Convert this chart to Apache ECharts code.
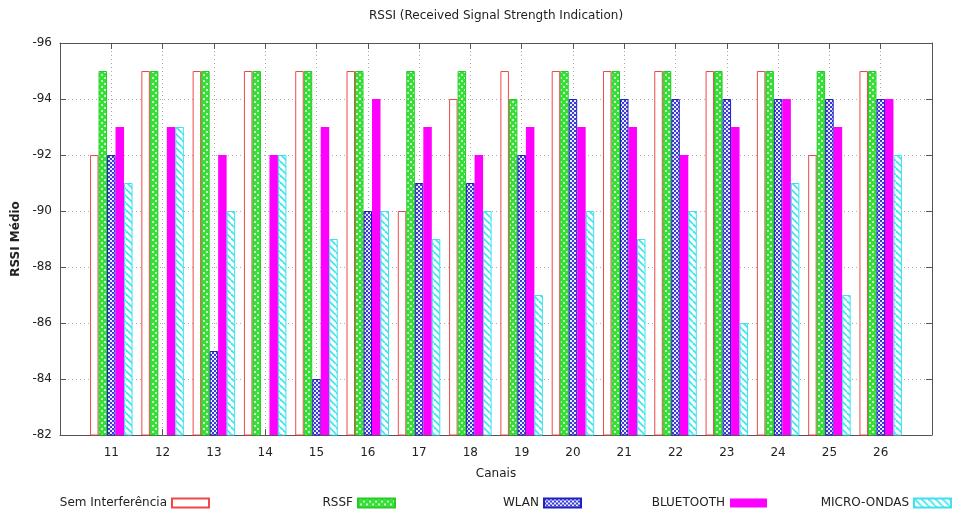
<!DOCTYPE html>
<html>
<head>
<meta charset="utf-8">
<script src="https://cdn.jsdelivr.net/npm/echarts@6/dist/echarts.min.js"></script>
<style>html,body{margin:0;padding:0;background:#fff;}#c{width:954px;height:514px;}</style>
</head>
<body>
<div id="c"></div>
<script>
const channels = ['11','12','13','14','15','16','17','18','19','20','21','22','23','24','25','26'];
const yTicks = [-96,-94,-92,-90,-88,-86,-84,-82];
const seriesNames = ['Sem Interferência','RSSF','WLAN','BLUETOOTH','MICRO-ONDAS'];
const semInterferencia = [-92,-95,-95,-95,-95,-95,-90,-94,-95,-95,-95,-95,-95,-95,-92,-95];
const rssf            = [-95,-95,-95,-95,-95,-95,-95,-95,-94,-95,-95,-95,-95,-95,-95,-95];
const wlan            = [-92,null,-85,null,-84,-90,-91,-91,-92,-94,-94,-94,-94,-94,-94,-94];
const bluetooth       = [-93,-93,-92,-92,-93,-94,-93,-92,-93,-93,-93,-92,-93,-94,-93,-94];
const microOndas      = [-91,-93,-90,-92,-89,-90,-89,-90,-87,-90,-89,-90,-86,-91,-87,-92];

const FONT = 'DejaVu Sans';
const TXT = '#222';

function pattern(size, draw) {
  const c = document.createElement('canvas');
  c.width = size; c.height = size;
  const ctx = c.getContext('2d');
  draw(ctx, size);
  return { image: c, repeat: 'repeat' };
}
const greenPat = pattern(6, (ctx, s) => {
  ctx.fillStyle = '#ffffff'; ctx.fillRect(0, 0, s, s);
  ctx.strokeStyle = '#33e033'; ctx.lineWidth = 2.4;
  for (const dx of [-s, 0, s]) {
    ctx.beginPath(); ctx.moveTo(dx, 0); ctx.lineTo(dx + s, s); ctx.stroke();
    ctx.beginPath(); ctx.moveTo(dx + s, 0); ctx.lineTo(dx, s); ctx.stroke();
  }
});
const bluePat = pattern(4, (ctx, s) => {
  ctx.fillStyle = '#e8e8ff'; ctx.fillRect(0, 0, s, s);
  ctx.fillStyle = '#3b3bd6';
  ctx.fillRect(0, 0, 2, 2); ctx.fillRect(2, 2, 2, 2);
});
const cyanPat = pattern(7, (ctx, s) => {
  ctx.fillStyle = '#ffffff'; ctx.fillRect(0, 0, s, s);
  ctx.strokeStyle = '#40e6f0'; ctx.lineWidth = 1.8;
  for (const dx of [-s, 0, s]) {
    ctx.beginPath(); ctx.moveTo(dx, 0); ctx.lineTo(dx + s, s); ctx.stroke();
  }
});

const styles = [
  { color: '#ffffff', borderColor: '#f04848', borderWidth: 1 },
  { color: greenPat, borderColor: '#22cc22', borderWidth: 1 },
  { color: bluePat, borderColor: '#2020c0', borderWidth: 1 },
  { color: '#ff00ff', borderColor: '#ff00ff', borderWidth: 0 },
  { color: cyanPat, borderColor: '#40e0ee', borderWidth: 1 }
];
const values = [semInterferencia, rssf, wlan, bluetooth, microOndas];
const axisCats = [''].concat(channels, ['']);
const pad = arr => [null].concat(arr, [null]);

const swatchRight = [210, 396, 582, 767, 952];
const legends = seriesNames.map((n, i) => ({
  data: [{ name: n, icon: 'rect' }], right: 954 - swatchRight[i], top: 497, padding: 0,
  itemWidth: 37, itemHeight: 9, align: 'right', selectedMode: false,
  textStyle: { fontFamily: FONT, fontSize: 12, color: TXT }
}));

const axisLineStyle = { color: '#555', width: 1 };
const chart = echarts.init(document.getElementById('c'), null, { renderer: 'canvas' });
chart.setOption({
  animation: false,
  backgroundColor: '#fff',
  title: {
    text: 'RSSI (Received Signal Strength Indication)',
    left: 496, top: 10, padding: 0, textAlign: 'center',
    textStyle: { fontFamily: FONT, fontSize: 12, fontWeight: 'normal', color: TXT }
  },
  legend: legends,
  grid: { left: 60, right: 22, top: 43, bottom: 79, containLabel: false, outerBoundsMode: 'none' },
  xAxis: [{
    type: 'category', data: axisCats, boundaryGap: false,
    name: 'Canais', nameLocation: 'middle', nameGap: 33,
    nameTextStyle: { fontFamily: FONT, fontSize: 12, color: TXT },
    axisLine: { lineStyle: axisLineStyle },
    axisTick: { inside: true, length: 6, interval: 0, lineStyle: axisLineStyle },
    axisLabel: { interval: 0, margin: 12, fontFamily: FONT, fontSize: 12, color: TXT },
    splitLine: { show: true, interval: 0, lineStyle: { color: '#aaa', type: [1, 3] } }
  }, {
    type: 'category', data: axisCats, boundaryGap: false, position: 'top',
    axisLine: { lineStyle: axisLineStyle },
    axisTick: { inside: true, length: 6, interval: 0, lineStyle: axisLineStyle },
    axisLabel: { show: false }, splitLine: { show: false }
  }],
  yAxis: [{
    type: 'value', min: yTicks[0], max: yTicks[yTicks.length - 1], interval: 2, inverse: true,
    name: 'RSSI Médio', nameLocation: 'middle', nameGap: 34,
    nameTextStyle: { fontFamily: FONT, fontSize: 12, fontWeight: 'bold', color: TXT },
    axisLine: { show: true, lineStyle: axisLineStyle },
    axisTick: { show: true, inside: true, length: 6, lineStyle: axisLineStyle },
    axisLabel: { margin: 8, fontFamily: FONT, fontSize: 12, color: TXT },
    splitLine: { show: true, lineStyle: { color: '#aaa', type: [1, 3] } }
  }, {
    type: 'value', min: yTicks[0], max: yTicks[yTicks.length - 1], interval: 2, inverse: true,
    position: 'right',
    axisLine: { show: true, lineStyle: axisLineStyle },
    axisTick: { show: true, inside: true, length: 6, lineStyle: axisLineStyle },
    axisLabel: { show: false }, splitLine: { show: false }
  }],
  series: seriesNames.map((n, i) => ({
    name: n, type: 'bar', xAxisIndex: 0, yAxisIndex: 0,
    data: pad(values[i]), barWidth: 8.5, barGap: '0%', clip: true,
    itemStyle: styles[i]
  }))
});
</script>
</body>
</html>
